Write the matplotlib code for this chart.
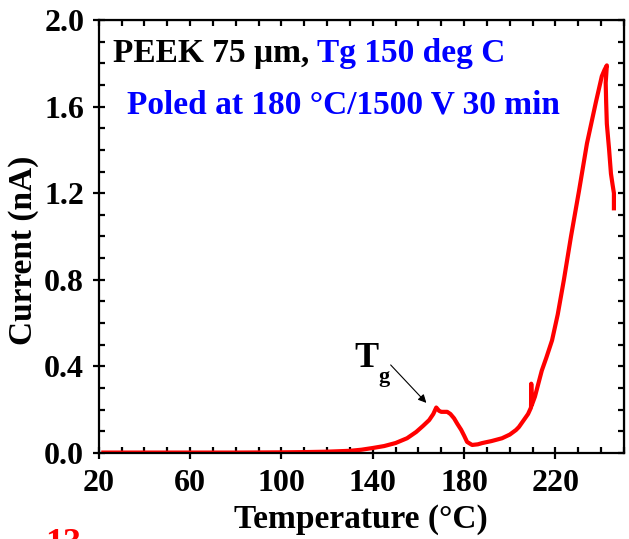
import matplotlib
matplotlib.use('Agg')
import matplotlib.pyplot as plt
from matplotlib.ticker import MultipleLocator, FixedLocator

plt.rcParams['font.family'] = ['Liberation Serif', 'DejaVu Serif']
plt.rcParams['font.weight'] = 'bold'

# TSC current vs temperature
temp = [22, 40, 60, 80, 100, 110, 120, 130, 135, 140, 145, 150, 155, 159, 162,
        164.7, 166.5, 167.8, 169, 170, 172.6, 174, 175.6, 177, 178.7, 180, 181.3,
        183.5, 186, 188, 192, 196.6, 200, 202.7, 204, 206, 208, 209.3, 209.4,
        209.6, 211, 214, 216, 218.5, 221, 223.7, 226.8, 230.3, 233.8, 237.7,
        240.3, 241.5, 242.5, 242.0, 242.2, 242.5, 243.5, 244.3, 245.0, 245.6, 245.6]
current = [0.002, 0.002, 0.002, 0.002, 0.003, 0.004, 0.006, 0.01, 0.015, 0.023,
           0.032, 0.046, 0.068, 0.097, 0.125, 0.152, 0.18, 0.21, 0.195, 0.19,
           0.19, 0.18, 0.16, 0.135, 0.107, 0.08, 0.051, 0.037, 0.04, 0.046,
           0.055, 0.068, 0.085, 0.106, 0.12, 0.15, 0.18, 0.21, 0.32, 0.22, 0.26,
           0.38, 0.44, 0.52, 0.64, 0.8, 1.0, 1.21, 1.43, 1.62, 1.74, 1.77, 1.79,
           1.71, 1.62, 1.52, 1.4, 1.29, 1.24, 1.2, 1.13]
xticks = [20, 60, 100, 140, 180, 220]

fig = plt.figure(figsize=(6.29, 5.39), dpi=100)
ax = fig.add_axes([0.157, 0.1596, 0.835, 0.8034])

ax.plot(temp, current, color='red', lw=3)

ax.set_xlim(20, 250)
ax.set_ylim(0, 2.0)
ax.xaxis.set_major_locator(FixedLocator(xticks))
ax.xaxis.set_minor_locator(MultipleLocator(10))
ax.yaxis.set_major_locator(MultipleLocator(0.4))
ax.yaxis.set_minor_locator(MultipleLocator(0.1))
ax.yaxis.set_major_formatter(lambda v, p: '%.1f' % v)

for s in ax.spines.values():
    s.set_linewidth(1.6)
ax.tick_params(which='major', direction='inout', length=9, width=1.6,
               labelsize=23)
ax.tick_params(axis='x', which='major', pad=7)
ax.tick_params(axis='y', which='major', pad=6)
ax.tick_params(which='minor', direction='in', length=4, width=1.6)

# ticks on top / right
top = ax.secondary_xaxis('top')
top.xaxis.set_major_locator(MultipleLocator(10))
top.tick_params(direction='in', length=4, width=1.6, labeltop=False)
right = ax.secondary_yaxis('right')
right.yaxis.set_major_locator(MultipleLocator(0.1))
right.tick_params(direction='in', length=4, width=1.6, labelright=False)

ax.set_xlabel('Temperature (°C)', fontsize=24, fontweight='bold', labelpad=4)
ax.set_ylabel('Current (nA)', fontsize=24, fontweight='bold')
ax.yaxis.set_label_coords(-0.113, 0.467)

t1 = ax.text(26.1, 1.806, 'PEEK 75 μm, ', fontsize=24, fontweight='bold',
             color='black')
ax.annotate('Tg 150 deg C', xy=(1, 0), xycoords=t1, va='bottom', fontsize=24,
            fontweight='bold', color='blue')
ax.text(32.2, 1.57, 'Poled at 180 °C/1500 V 30 min', fontsize=24,
        fontweight='bold', color='blue')

ax.text(131.9, 0.397, 'T', fontsize=26, fontweight='bold')
ax.text(142.6, 0.33, 'g', fontsize=16, fontweight='bold')
ax.annotate('', xy=(164.3, 0.222), xytext=(147.0, 0.416),
            arrowprops=dict(arrowstyle='-|>', color='black', lw=0.8,
                            mutation_scale=12))

fig.text(0.072, 0.021, '13', color='red', fontsize=26, fontweight='bold',
         va='top')

fig.savefig('out.png', dpi=100)
